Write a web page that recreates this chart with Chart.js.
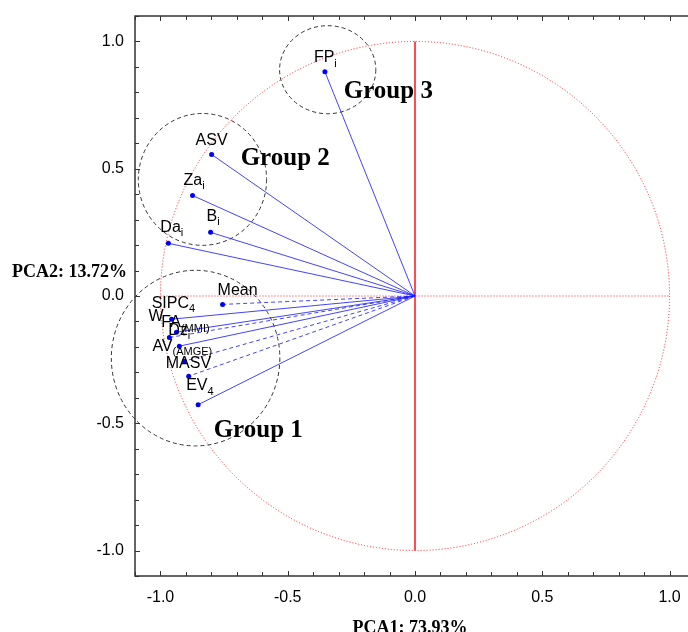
<!DOCTYPE html>
<html>
<head>
<meta charset="utf-8">
<script src="https://cdn.jsdelivr.net/npm/chart.js@4.4.1/dist/chart.umd.min.js"></script>
<style>
  html, body { margin: 0; padding: 0; overflow: hidden; background: #fff; }
  canvas { display: block; }
</style>
</head>
<body>
<canvas id="pca-chart" width="699" height="632"></canvas>
<script>
// loadings on the first two components
const variables = ['FPi', 'ASV', 'Zai', 'Bi', 'Dai', 'Mean', 'SIPC4', 'W', 'FA(MMI)', 'Dz', 'AV(AMGE)', 'MASV', 'EV4'];
const labelMain = ['FP', 'ASV', 'Za', 'B', 'Da', 'Mean', 'SIPC', 'W', 'FA', 'Dz', 'AV', 'MASV', 'EV'];
const labelSub  = ['i', '', 'i', 'i', 'i', '', '4', '', '(MMI)', 'i', '(AMGE)', '', '4'];
const pca1 = [-0.354, -0.799, -0.874, -0.803, -0.969, -0.756, -0.956, -0.937, -0.965, -0.926, -0.906, -0.889, -0.852];
const pca2 = [0.881, 0.556, 0.395, 0.250, 0.207, -0.033, -0.091, -0.142, -0.163, -0.197, -0.256, -0.315, -0.427];
const dashed = [false, false, false, false, false, true, false, false, true, false, true, true, false];

const xTicks = [-1.0, -0.5, 0.0, 0.5, 1.0];
const yTicks = [-1.0, -0.5, 0.0, 0.5, 1.0];
const xTitle = 'PCA1: 73.93%';
const yTitle = 'PCA2: 13.72%';

// groups (dashed rings)
const groupNames = ['Group 1', 'Group 2', 'Group 3'];
const groupX = [-0.862, -0.835, -0.343];
const groupY = [-0.244, 0.458, 0.889];
const groupRx = [0.331, 0.252, 0.189];
const groupRy = [0.345, 0.259, 0.173];
const groupTextX = [-0.791, -0.685, -0.280];
const groupTextY = [-0.554, 0.515, 0.778];

// label nudges in pixels (label start relative to point)
const labelNudge = [[-11, -14], [-16, -14], [-9, -15], [-4, -16], [-8, -16], [-5, -14], [-20, -16],
                    [-28, -16], [-8, -15], [-11, -16], [-32, -15], [-23, -13], [-12, -19]];

const sans = '"Liberation Sans", Arial, sans-serif';
const serif = '"Liberation Serif", "Times New Roman", serif';

const datasets = variables.map(function(name, i) {
    return {
        label: name,
        data: [{x: 0, y: 0}, {x: pca1[i], y: pca2[i]}],
        showLine: true,
        borderColor: 'rgba(20, 20, 255, 0.8)',
        borderWidth: 1,
        borderDash: dashed[i] ? [4, 3] : [],
        pointRadius: [0, 2.5],
        pointBackgroundColor: '#0000ff',
        pointBorderColor: '#0000ff',
        pointBorderWidth: 0
    };
});

const decorPlugin = {
    id: 'decor',
    beforeDatasetsDraw: function(chart) {
        const ctx = chart.ctx;
        const xs = chart.scales.x, ys = chart.scales.y;
        const cx = xs.getPixelForValue(0), cy = ys.getPixelForValue(0);
        const rx = xs.getPixelForValue(1) - cx, ry = cy - ys.getPixelForValue(1);
        ctx.save();
        // unit circle
        ctx.strokeStyle = 'rgba(255, 0, 0, 0.85)';
        ctx.lineWidth = 1;
        ctx.setLineDash([1, 2]);
        ctx.beginPath();
        ctx.ellipse(cx, cy, rx, ry, 0, 0, Math.PI * 2);
        ctx.stroke();
        ctx.beginPath();
        ctx.moveTo(cx - rx, cy);
        ctx.lineTo(cx + rx, cy);
        ctx.stroke();
        ctx.setLineDash([]);
        ctx.strokeStyle = 'rgb(255, 0, 0)';
        ctx.lineWidth = 1.4;
        ctx.beginPath();
        ctx.moveTo(cx, cy - ry);
        ctx.lineTo(cx, cy + ry);
        ctx.stroke();
        // group rings
        ctx.lineWidth = 1;
        ctx.strokeStyle = '#333';
        ctx.setLineDash([4, 3]);
        groupNames.forEach(function(g, i) {
            const gx = xs.getPixelForValue(groupX[i]);
            const gy = ys.getPixelForValue(groupY[i]);
            const grx = xs.getPixelForValue(groupX[i] + groupRx[i]) - gx;
            const gry = gy - ys.getPixelForValue(groupY[i] + groupRy[i]);
            ctx.beginPath();
            ctx.ellipse(gx, gy, grx, gry, 0, 0, Math.PI * 2);
            ctx.stroke();
        });
        ctx.restore();
    },
    afterDatasetsDraw: function(chart) {
        const ctx = chart.ctx;
        const xs = chart.scales.x, ys = chart.scales.y;
        const area = chart.chartArea;
        ctx.save();
        // variable labels
        ctx.fillStyle = '#000';
        ctx.textBaseline = 'middle';
        ctx.textAlign = 'left';
        variables.forEach(function(name, i) {
            const pt = chart.getDatasetMeta(i).data[1];
            const lx = pt.x + labelNudge[i][0];
            const ly = pt.y + labelNudge[i][1];
            ctx.font = '16px ' + sans;
            ctx.fillText(labelMain[i], lx, ly);
            if (labelSub[i]) {
                const w = ctx.measureText(labelMain[i]).width;
                ctx.font = '11px ' + sans;
                ctx.fillText(labelSub[i], lx + w, ly + 6);
            }
        });
        // group names
        ctx.font = 'bold 25px ' + serif;
        ctx.textBaseline = 'alphabetic';
        groupNames.forEach(function(g, i) {
            ctx.fillText(g, xs.getPixelForValue(groupTextX[i]), ys.getPixelForValue(groupTextY[i]));
        });
        // frame
        ctx.strokeStyle = '#333';
        ctx.lineWidth = 1.5;
        ctx.beginPath();
        ctx.moveTo(area.right + 2, area.top);
        ctx.lineTo(area.left, area.top);
        ctx.lineTo(area.left, area.bottom);
        ctx.lineTo(area.right + 2, area.bottom);
        ctx.stroke();
        // inward ticks
        ctx.lineWidth = 1;
        for (let k = -11; k <= 11; k++) {
            const v = k / 10;
            const len = k % 5 === 0 ? 5 : 4;
            const px = Math.round(xs.getPixelForValue(v)) + 0.5;
            const py = Math.round(ys.getPixelForValue(v)) + 0.5;
            ctx.beginPath();
            ctx.moveTo(px, area.bottom); ctx.lineTo(px, area.bottom - len);
            ctx.moveTo(px, area.top); ctx.lineTo(px, area.top + len);
            ctx.moveTo(area.left, py); ctx.lineTo(area.left + len, py);
            ctx.stroke();
        }
        // axis titles
        ctx.font = 'bold 18px ' + serif;
        ctx.textAlign = 'center';
        ctx.textBaseline = 'middle';
        ctx.fillText(xTitle, xs.getPixelForValue(-0.02), 628);
        ctx.textAlign = 'left';
        ctx.fillText(yTitle, 12, 272);
        ctx.restore();
    }
};

new Chart(document.getElementById('pca-chart').getContext('2d'), {
    type: 'scatter',
    data: { datasets: datasets },
    options: {
        responsive: false,
        animation: false,
        devicePixelRatio: 1,
        layout: { padding: { top: 16, right: 0, left: 0, bottom: 0 } },
        plugins: { legend: { display: false }, tooltip: { enabled: false } },
        scales: {
            x: {
                type: 'linear',
                min: -1.1,
                max: 1.1,
                afterBuildTicks: function(scale) { scale.ticks = xTicks.map(function(v) { return {value: v}; }); },
                afterFit: function(scale) {
                    scale.height = 56;
                    scale.paddingLeft = 0;
                    scale.paddingRight = 0;
                },
                grid: { display: false, drawTicks: false },
                border: { display: false },
                ticks: {
                    color: '#000',
                    padding: 12,
                    maxRotation: 0,
                    font: { family: sans, size: 16 },
                    callback: function(value) { return value.toFixed(1); }
                }
            },
            y: {
                type: 'linear',
                min: -1.1,
                max: 1.1,
                afterBuildTicks: function(scale) { scale.ticks = yTicks.map(function(v) { return {value: v}; }); },
                afterFit: function(scale) {
                    scale.width = 135;
                    scale.paddingTop = 0;
                    scale.paddingBottom = 0;
                },
                grid: { display: false, drawTicks: false },
                border: { display: false },
                ticks: {
                    color: '#000',
                    padding: 11,
                    font: { family: sans, size: 16 },
                    callback: function(value) { return value.toFixed(1); }
                }
            }
        }
    },
    plugins: [decorPlugin]
});
</script>
</body>
</html>
